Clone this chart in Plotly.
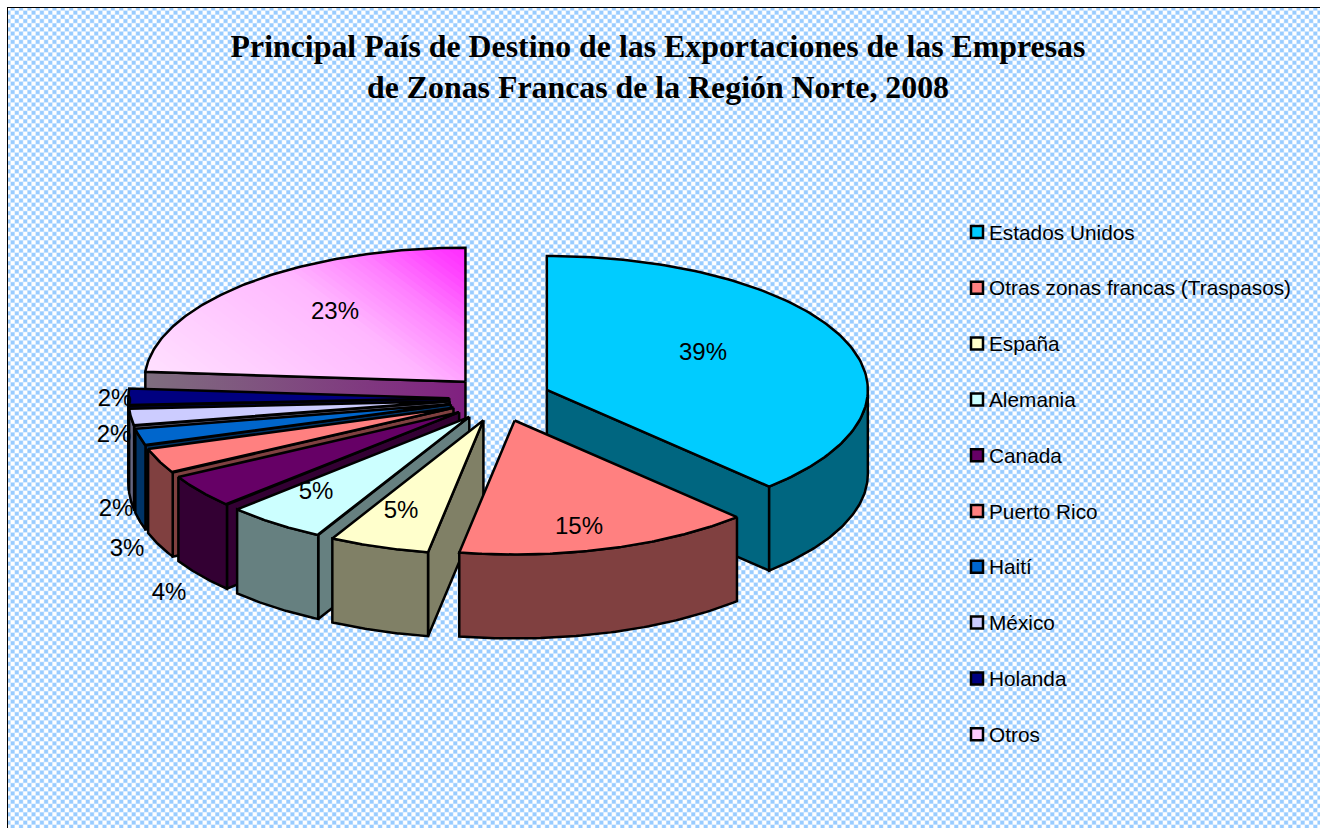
import base64, struct, zlib
import numpy as np
import plotly.graph_objects as go

# ---- data ----
categories = ["Estados Unidos", "Otras zonas francas (Traspasos)", "España", "Alemania", "Canada",
              "Puerto Rico", "Haití", "México", "Holanda", "Otros"]
values = [39, 15, 5, 5, 4, 3, 2, 2, 2, 23]

# ---- style ----
top_colors = ["#00CCFF", "#FF8080", "#FFFFCC", "#CCFFFF", "#660066", "#FF8080", "#0066CC", "#CCCCFF", "#000080", "#FFCCFF"]
side_colors = ["#006680", "#804040", "#808066", "#668080", "#330033", "#804040", "#003366", "#666680", "#000040", "#7F6F7F"]
label_xy = [(703, 354), (579, 528), (401, 512), (316, 493), (169, 594), (127, 550), (116, 510), (114, 436), (115, 400), (335, 313)]
draw_order = [9, 8, 7, 6, 5, 4, 3, 0, 2, 1]
CX, CY, RX, RY, DEPTH = 499.9, 398.5, 321.0, 134.0, 84.0
EXPL_X, EXPL_Y = 50.6, 23.0
VIEW_WARP = 4.5   # degrees, angular distortion of the tilted 3D view
EDGE = 2.5
W, H = 1320, 828
GRAD_STOPS = [0, .55, .75, .9, 1]
GRAD_G = [224, 184, 128, 68, 40]


def png_uri():
    w, h = 1312, 820
    p = 8.35
    xs, ys = np.meshgrid(np.arange(w), np.arange(h))
    cx = np.clip(1.8 * np.cos(2 * np.pi * xs / p), -1, 1)
    cy = np.clip(1.8 * np.cos(2 * np.pi * ys / p), -1, 1)
    v = np.clip(.56 + .56 * cx * cy, 0, 1)[..., None]
    blue, white = np.array([153, 204, 255]), np.array([255, 255, 255])
    arr = (blue + (white - blue) * v).astype(np.uint8)
    raw = b"".join(b"\x00" + arr[r].tobytes() for r in range(h))
    def chunk(t, d):
        return struct.pack(">I", len(d)) + t + d + struct.pack(">I", zlib.crc32(t + d) & 0xffffffff)
    png = b"\x89PNG\r\n\x1a\n" + chunk(b"IHDR", struct.pack(">IIBBBBB", w, h, 8, 2, 0, 0, 0)) + chunk(b"IDAT", zlib.compress(raw)) + chunk(b"IEND", b"")
    return "data:image/png;base64," + base64.b64encode(png).decode()


fig = go.Figure()


def poly(xs, ys, fill, gradient=None, edge=EDGE):
    kw = dict(fillgradient=gradient) if gradient else dict(fillcolor=fill)
    fig.add_trace(go.Scatter(x=list(xs) + [xs[0]], y=list(ys) + [ys[0]], mode="lines", fill="toself",
                             line=dict(color="black", width=edge), hoverinfo="skip", showlegend=False, **kw))


def clip_halfplane(pts, ux, uy, s0):
    """Part of a polygon where ux*x + uy*y >= s0."""
    out = []
    for k in range(len(pts)):
        a, b = pts[k], pts[(k + 1) % len(pts)]
        sa, sb = ux * a[0] + uy * a[1] - s0, ux * b[0] + uy * b[1] - s0
        if sa >= 0:
            out.append(a)
        if (sa >= 0) != (sb >= 0):
            f = sa / (sa - sb)
            out.append((a[0] + f * (b[0] - a[0]), a[1] + f * (b[1] - a[1])))
    return out


def gradient_top(xs, ys):
    pts = list(zip(xs, ys))
    ux, uy = .6, -.8
    s = [ux * x + uy * y for x, y in pts]
    lo, hi = min(s), max(s)
    n = 50
    for k in range(n):
        t = k / n
        piece = clip_halfplane(pts, ux, uy, lo + (hi - lo) * t) if k else pts
        if len(piece) < 3:
            continue
        g = int(np.interp(t, GRAD_STOPS, GRAD_G))
        fill = f"rgb(255,{g},255)"
        px, py = zip(*piece)
        fig.add_trace(go.Scatter(x=list(px) + [px[0]], y=list(py) + [py[0]], mode="lines", fill="toself", fillcolor=fill,
                                 line=dict(width=0, color=fill), hoverinfo="skip", showlegend=False))
    fig.add_trace(go.Scatter(x=list(xs) + [xs[0]], y=list(ys) + [ys[0]], mode="lines",
                             line=dict(color="black", width=EDGE), hoverinfo="skip", showlegend=False))


total = sum(values)
edges = np.concatenate([[0], np.cumsum(values)]) / total * 360.0
edges = edges - VIEW_WARP * np.sin(np.radians(edges / 2))
for i in draw_order:
    t0, t1 = edges[i], edges[i + 1]
    mid = np.radians((t0 + t1) / 2)
    ax, ay = CX + EXPL_X * np.sin(mid), CY - EXPL_Y * np.cos(mid)
    rim = lambda t: (ax + RX * np.sin(np.radians(t)), ay - RY * np.cos(np.radians(t)))
    grad_side = None
    if i == 9:
        grad_side = dict(type="horizontal", colorscale=[[0, "#7F6F7F"], [1, "#802080"]])
    # radial faces that look towards the viewer
    if np.sin(np.radians(t0)) < 0:
        x, y = rim(t0)
        poly([ax, x, x, ax], [ay, y, y + DEPTH, ay + DEPTH], side_colors[i], grad_side)
    if np.sin(np.radians(t1)) > 0:
        x, y = rim(t1)
        poly([ax, x, x, ax], [ay, y, y + DEPTH, ay + DEPTH], side_colors[i])
    # curved outer face
    lo, hi = max(t0, 90), min(t1, 270)
    if hi > lo:
        ts = np.linspace(lo, hi, 60)
        px, py = zip(*[rim(t) for t in ts])
        poly(list(px) + list(px[::-1]), list(py) + [v + DEPTH for v in py[::-1]], side_colors[i])
    # top face
    ts = np.linspace(t0, t1, 120)
    px, py = zip(*[rim(t) for t in ts])
    if i == 9:
        gradient_top([ax] + list(px), [ay] + list(py))
    else:
        poly([ax] + list(px), [ay] + list(py), top_colors[i])

# percentage labels
pct_labels = [f"{round(v / total * 100)}%" for v in values]
fig.add_trace(go.Scatter(x=[p[0] for p in label_xy], y=[p[1] for p in label_xy], mode="text", text=pct_labels,
                         textposition="middle center", hoverinfo="skip", showlegend=False,
                         textfont=dict(family="Liberation Sans", size=24, color="black")))

# legend column
leg_y = [232 + 55.8 * k for k in range(len(categories))]
fig.add_trace(go.Scatter(x=[977] * len(categories), y=leg_y, mode="markers", hoverinfo="skip", showlegend=False,
                         marker=dict(symbol="square", size=12, color=top_colors, line=dict(color="black", width=2.5))))
fig.add_trace(go.Scatter(x=[989] * len(categories), y=[v + 2.5 for v in leg_y], mode="text", text=categories, textposition="middle right",
                         hoverinfo="skip", showlegend=False,
                         textfont=dict(family="Liberation Sans", size=20.8, color="black")))

fig.update_layout(
    width=W, height=H, margin=dict(l=0, r=0, t=0, b=0), paper_bgcolor="white", plot_bgcolor="rgba(0,0,0,0)",
    showlegend=False,
    title=dict(text="<b>Principal País de Destino de las Exportaciones de las Empresas<br>de Zonas Francas de la Región Norte, 2008</b>",
               x=658 / W, xanchor="center", y=1 - 57 / H, yanchor="top",
               font=dict(family="Liberation Serif", size=31.85, color="black")),
    xaxis=dict(range=[0, W], visible=False, fixedrange=True),
    yaxis=dict(range=[H, 0], visible=False, fixedrange=True),
    images=[dict(source=png_uri(), xref="x", yref="y", x=8, y=8, sizex=1312, sizey=820, sizing="stretch", layer="below", xanchor="left", yanchor="top")],
    shapes=[dict(type="rect", xref="x", yref="y", x0=8, y0=8, x1=W + 20, y1=H + 20, line=dict(color="black", width=2), layer="below")],
)
fig.write_html("out.html", config=dict(displayModeBar=False),
               post_script="document.body.style.margin='0';document.body.style.overflow='hidden';")
